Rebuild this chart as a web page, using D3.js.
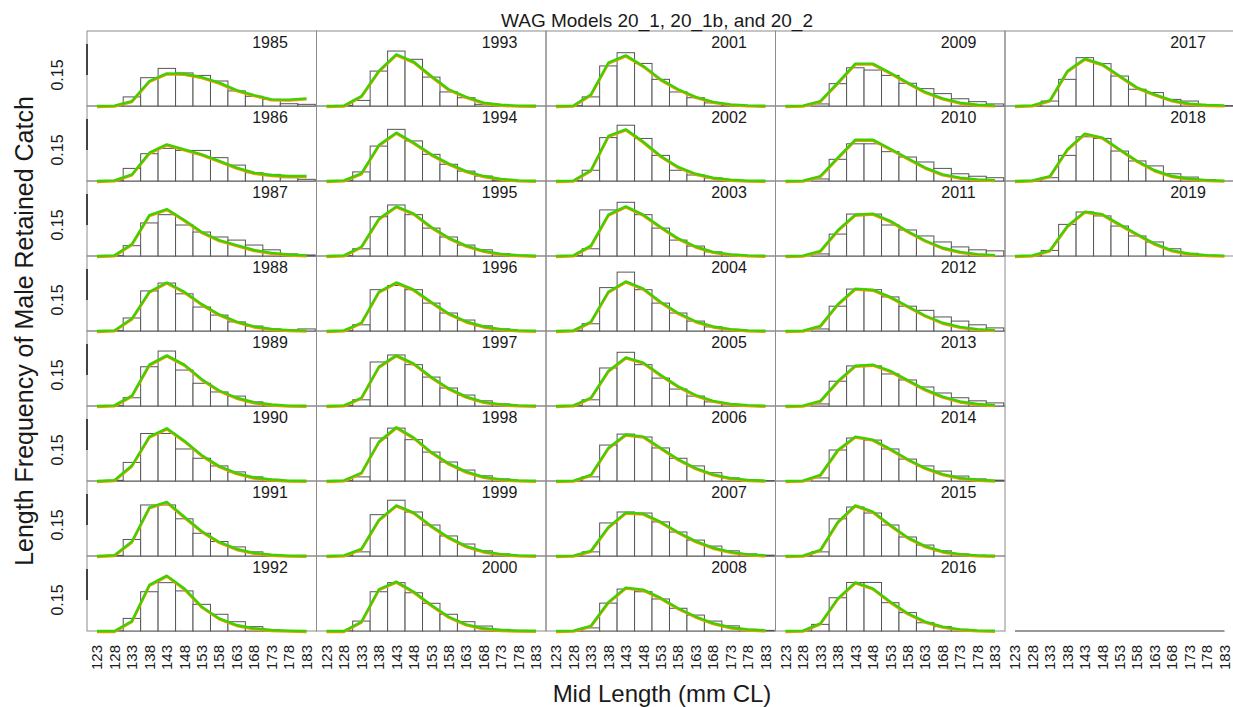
<!DOCTYPE html>
<html><head><meta charset="utf-8">
<script src="https://cdn.jsdelivr.net/npm/d3@7"></script>
<style>body{margin:0;background:#fff}svg{display:block}text{font-family:"Liberation Sans",Arial,sans-serif;fill:#1a1a1a}</style>
</head><body><svg id="chart" width="1233" height="707"></svg>
<script>
const chartTitle = "WAG Models 20_1, 20_1b, and 20_2";
const xTitle = "Mid Length (mm CL)";
const yTitle = "Length Frequency of Male Retained Catch";
const years = [1985,1986,1987,1988,1989,1990,1991,1992,1993,1994,1995,1996,1997,1998,1999,2000,2001,2002,2003,2004,2005,2006,2007,2008,2009,2010,2011,2012,2013,2014,2015,2016,2017,2018,2019];
const lengthBins = [123,128,133,138,143,148,153,158,163,168,173,178,183];
const xTickLabels = ["123","128","133","138","143","148","153","158","163","168","173","178","183"];
const yTickValues = [0.15];
const yTickLabels = ["0.15"];
const yAxisSpan = [0.15, 0.3];

// observed proportions (bars), one row per year, bins 123..183
const observed = [
[0,0.002,0.044,0.137,0.182,0.16,0.148,0.121,0.073,0.047,0.032,0.011,0.008],
[0,0.002,0.061,0.132,0.158,0.148,0.148,0.113,0.077,0.04,0.032,0.016,0.008],
[0,0.002,0.05,0.16,0.2,0.15,0.116,0.092,0.077,0.053,0.03,0.01,0.005],
[0,0.002,0.063,0.194,0.232,0.18,0.116,0.077,0.044,0.024,0.01,0.005,0.01],
[0,0.002,0.04,0.19,0.266,0.174,0.11,0.068,0.048,0.02,0.005,0.002,0],
[0,0.003,0.09,0.23,0.23,0.155,0.11,0.073,0.044,0.02,0.008,0.002,0],
[0,0.003,0.08,0.247,0.247,0.18,0.11,0.07,0.044,0.02,0.007,0.002,0],
[0,0.001,0.061,0.19,0.234,0.194,0.129,0.081,0.045,0.021,0.005,0,0],
[0,0.003,0.027,0.169,0.266,0.226,0.14,0.068,0.04,0.008,0.003,0,0],
[0,0.002,0.044,0.169,0.25,0.194,0.129,0.081,0.048,0.024,0.005,0,0],
[0,0.002,0.035,0.19,0.247,0.2,0.135,0.092,0.053,0.03,0.012,0.004,0],
[0,0.002,0.03,0.2,0.22,0.2,0.135,0.087,0.053,0.025,0.01,0.003,0],
[0,0.002,0.03,0.213,0.247,0.2,0.14,0.087,0.053,0.025,0.01,0.003,0],
[0,0.002,0.02,0.208,0.256,0.2,0.14,0.092,0.053,0.025,0.01,0.003,0],
[0,0.002,0.02,0.2,0.27,0.213,0.15,0.097,0.058,0.025,0.01,0.003,0],
[0,0.001,0.048,0.19,0.234,0.185,0.134,0.081,0.045,0.024,0.008,0.003,0],
[0,0.002,0.044,0.194,0.258,0.206,0.129,0.068,0.04,0.015,0.005,0.002,0],
[0,0.002,0.052,0.21,0.27,0.206,0.124,0.052,0.029,0.015,0.005,0.002,0],
[0,0.002,0.035,0.223,0.26,0.2,0.135,0.077,0.048,0.02,0.008,0.002,0],
[0,0.002,0.035,0.21,0.285,0.2,0.135,0.087,0.048,0.02,0.008,0.002,0],
[0,0.002,0.03,0.184,0.26,0.2,0.135,0.082,0.048,0.02,0.008,0.002,0],
[0,0.002,0.02,0.174,0.227,0.213,0.16,0.11,0.073,0.04,0.015,0.005,0.002],
[0,0.001,0.02,0.16,0.213,0.208,0.165,0.116,0.077,0.048,0.025,0.01,0.004],
[0,0.001,0.015,0.135,0.203,0.19,0.155,0.11,0.077,0.048,0.025,0.008,0.003],
[0,0,0.01,0.108,0.185,0.174,0.148,0.11,0.084,0.06,0.035,0.021,0.01],
[0,0,0.01,0.105,0.18,0.18,0.142,0.116,0.092,0.061,0.035,0.023,0.016],
[0,0,0.01,0.106,0.203,0.203,0.15,0.126,0.097,0.068,0.044,0.03,0.025],
[0,0,0.01,0.12,0.203,0.2,0.165,0.12,0.1,0.068,0.048,0.03,0.015],
[0,0,0.01,0.12,0.194,0.194,0.155,0.126,0.092,0.063,0.04,0.025,0.015],
[0,0,0.015,0.15,0.208,0.198,0.155,0.106,0.073,0.048,0.024,0.01,0.004],
[0,0.001,0.02,0.18,0.237,0.208,0.15,0.092,0.053,0.025,0.01,0.004,0],
[0,0.001,0.032,0.161,0.235,0.235,0.137,0.089,0.04,0.021,0.008,0.002,0],
[0,0.001,0.024,0.129,0.234,0.205,0.145,0.081,0.065,0.032,0.024,0.005,0.002],
[0,0.001,0.016,0.124,0.214,0.206,0.145,0.097,0.073,0.035,0.019,0.006,0],
[0,0.001,0.027,0.153,0.213,0.194,0.145,0.097,0.068,0.035,0.013,0.004,0]
];

// model fits (lines), one row per year, bins 123..183
const predicted = [
[0,0.002,0.024,0.121,0.158,0.156,0.14,0.113,0.077,0.053,0.032,0.031,0.037],
[0,0.003,0.032,0.137,0.177,0.153,0.129,0.097,0.065,0.04,0.029,0.024,0.024],
[0,0.003,0.058,0.198,0.227,0.174,0.116,0.077,0.053,0.029,0.015,0.007,0.003],
[0,0.003,0.06,0.19,0.235,0.19,0.13,0.08,0.045,0.022,0.01,0.004,0.002],
[0,0.003,0.05,0.2,0.245,0.2,0.13,0.075,0.04,0.018,0.007,0.002,0.001],
[0,0.004,0.075,0.215,0.255,0.195,0.125,0.072,0.038,0.017,0.007,0.002,0.001],
[0,0.004,0.07,0.235,0.262,0.19,0.12,0.068,0.034,0.015,0.006,0.002,0.001],
[0,0,0.048,0.223,0.268,0.206,0.118,0.061,0.029,0.013,0.005,0.002,0],
[0,0.002,0.048,0.17,0.25,0.214,0.145,0.081,0.044,0.016,0.006,0.002,0.001],
[0,0.003,0.037,0.174,0.234,0.185,0.129,0.084,0.048,0.024,0.01,0.003,0.001],
[0,0.003,0.045,0.18,0.24,0.205,0.14,0.088,0.05,0.025,0.01,0.004,0.001],
[0,0.003,0.04,0.19,0.235,0.2,0.14,0.085,0.046,0.022,0.009,0.003,0.001],
[0,0.003,0.04,0.19,0.245,0.205,0.14,0.085,0.045,0.02,0.008,0.003,0.001],
[0,0.003,0.04,0.19,0.26,0.21,0.14,0.085,0.045,0.02,0.008,0.003,0.001],
[0,0.003,0.035,0.175,0.245,0.21,0.145,0.09,0.048,0.022,0.009,0.003,0.001],
[0,0,0.045,0.202,0.239,0.19,0.126,0.069,0.032,0.013,0.005,0.002,0.001],
[0,0.002,0.056,0.21,0.245,0.194,0.129,0.081,0.044,0.02,0.008,0.003,0.001],
[0,0.002,0.052,0.218,0.25,0.19,0.121,0.068,0.035,0.016,0.006,0.002,0.001],
[0,0.003,0.05,0.2,0.24,0.2,0.14,0.085,0.046,0.02,0.008,0.003,0.001],
[0,0.003,0.045,0.19,0.24,0.205,0.14,0.087,0.047,0.022,0.009,0.003,0.001],
[0,0.003,0.04,0.17,0.235,0.21,0.15,0.095,0.053,0.025,0.01,0.004,0.001],
[0,0.002,0.03,0.16,0.225,0.215,0.16,0.105,0.062,0.032,0.014,0.005,0.002],
[0,0.002,0.025,0.14,0.21,0.205,0.165,0.115,0.072,0.04,0.02,0.008,0.003],
[0,0.002,0.025,0.14,0.21,0.2,0.16,0.11,0.07,0.038,0.018,0.007,0.003],
[0,0.002,0.024,0.113,0.205,0.205,0.161,0.113,0.068,0.037,0.016,0.006,0.003],
[0,0.002,0.024,0.113,0.2,0.2,0.156,0.11,0.065,0.032,0.016,0.008,0.004],
[0,0.002,0.025,0.125,0.2,0.205,0.17,0.12,0.075,0.04,0.02,0.009,0.004],
[0,0.002,0.025,0.13,0.205,0.2,0.165,0.12,0.075,0.04,0.02,0.009,0.004],
[0,0.002,0.025,0.12,0.195,0.2,0.17,0.125,0.08,0.045,0.022,0.01,0.004],
[0,0.002,0.03,0.15,0.215,0.2,0.155,0.105,0.063,0.033,0.015,0.006,0.002],
[0,0.002,0.03,0.165,0.245,0.215,0.15,0.09,0.048,0.022,0.009,0.003,0.001],
[0,0.002,0.037,0.158,0.235,0.206,0.142,0.086,0.045,0.021,0.008,0.003,0.001],
[0,0.003,0.027,0.169,0.229,0.202,0.145,0.089,0.056,0.027,0.011,0.005,0.003],
[0,0.003,0.024,0.153,0.229,0.21,0.153,0.097,0.052,0.024,0.011,0.004,0.002],
[0,0.003,0.027,0.145,0.215,0.202,0.153,0.105,0.06,0.027,0.011,0.004,0.002]
];

// ---- layout ----
const plotLeft = 87, plotTop = 31, colW = 229.5, rowH = 75, nRows = 8, nCols = 5;
const padX = 10, binHalf = 2.5, yMax = 0.363;
const svg = d3.select("#chart");
const gBorder = svg.append("g"), gBars = svg.append("g"), gLines = svg.append("g"), gText = svg.append("g");

function xScale(c) {
  const x0 = plotLeft + c * colW;
  return d3.scaleLinear().domain([lengthBins[0], lengthBins[lengthBins.length - 1]]).range([x0 + padX, x0 + colW - padX]);
}
function yScale(r) {
  return d3.scaleLinear().domain([0, yMax]).range([plotTop + (r + 1) * rowH, plotTop + r * rowH]);
}

years.forEach((yr, k) => {
  const c = Math.floor(k / nRows), r = k % nRows;
  const x = xScale(c), y = yScale(r);
  const x0 = plotLeft + c * colW, base = y(0);
  gBorder.append("rect").attr("x", x0).attr("y", y(yMax)).attr("width", colW).attr("height", rowH)
    .attr("fill", "none").attr("stroke", "#8c8c8c").attr("stroke-width", 1);
  const obs = observed[k], pred = predicted[k];
  gBars.selectAll(null).data(lengthBins.map((b, i) => ({b, v: obs[i]}))).join("rect")
    .attr("x", d => x(d.b - binHalf)).attr("width", d => x(d.b + binHalf) - x(d.b - binHalf))
    .attr("y", d => y(d.v)).attr("height", d => base - y(d.v))
    .attr("fill", "#fff").attr("stroke", "#555").attr("stroke-width", 1);
  const pts = lengthBins.map((b, i) => [b, pred[i]]);
  const line = d3.line().x(d => x(d[0])).y(d => y(d[1]));
  gLines.append("path").attr("d", line(pts)).attr("fill", "none").attr("stroke", "#f29a00")
    .attr("stroke-width", 2.6).attr("transform", "translate(0,0.9)").attr("stroke-linejoin", "round");
  gLines.append("path").attr("d", line(pts)).attr("fill", "none").attr("stroke", "#3fd000")
    .attr("stroke-width", 2.4).attr("stroke-linejoin", "round");
  gText.append("text").attr("x", x0 + 183).attr("y", y(yMax) + 17).attr("text-anchor", "middle")
    .attr("font-size", 16).text(yr);
  if (c === 0) {
    gText.append("line").attr("x1", plotLeft).attr("x2", plotLeft).attr("y1", y(yAxisSpan[0])).attr("y2", y(yAxisSpan[1]))
      .attr("stroke", "#222").attr("stroke-width", 1.6);
    yTickValues.forEach((tv, ti) => {
      gText.append("text").attr("transform", `translate(57,${y(tv)}) rotate(-90)`).attr("dy", "0.35em")
        .attr("text-anchor", "middle").attr("font-size", 16).text(yTickLabels[ti]);
    });
  }
});

// bottom axes (tick labels) for every column
for (let c = 0; c < nCols; c++) {
  const x = xScale(c);
  const base = yScale(nRows - 1)(0);
  if (c === nCols - 1) {
    gText.append("line").attr("x1", x(lengthBins[0])).attr("x2", x(lengthBins[lengthBins.length - 1]))
      .attr("y1", base).attr("y2", base).attr("stroke", "#333").attr("stroke-width", 1.2);
  }
  lengthBins.forEach((b, i) => {
    gText.append("text").attr("transform", `translate(${x(b)},${base + 14}) rotate(-90)`).attr("dy", "0.35em")
      .attr("text-anchor", "end").attr("font-size", 15).text(xTickLabels[i]);
  });
}

gText.append("text").attr("x", 657).attr("y", 27).attr("text-anchor", "middle").attr("font-size", 19).text(chartTitle);
gText.append("text").attr("x", 662).attr("y", 702).attr("text-anchor", "middle").attr("font-size", 24).text(xTitle);
gText.append("text").attr("transform", "translate(24,331) rotate(-90)").attr("dy", "0.36em")
  .attr("text-anchor", "middle").attr("font-size", 25).text(yTitle);
</script></body></html>
